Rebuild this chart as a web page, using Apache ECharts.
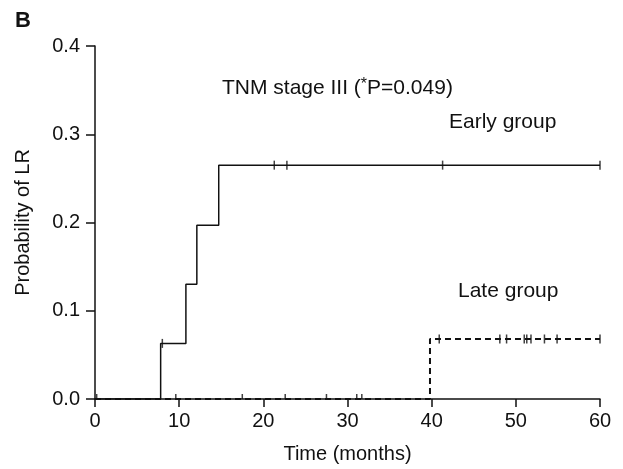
<!DOCTYPE html>
<html><head><meta charset="utf-8">
<script src="https://cdn.jsdelivr.net/npm/echarts@6/dist/echarts.min.js"></script>
<style>html,body{margin:0;padding:0;background:#fff}#c{width:623px;height:469px}</style>
</head><body><div id="c"></div>
<script>
var xTicks = [0, 10, 20, 30, 40, 50, 60];
var yTicks = [0.0, 0.1, 0.2, 0.3, 0.4];
var earlyTimes = [0, 7.8, 10.8, 12.1, 14.7, 60];
var earlyValues = [0, 0.063, 0.130, 0.197, 0.265, 0.265];
var earlyCensorTimes = [8.0, 21.3, 22.8, 41.3, 60];
var earlyCensorValues = [0.063, 0.265, 0.265, 0.265, 0.265];
var lateTimes = [0, 39.8, 60];
var lateValues = [0, 0.068, 0.068];
var lateCensorTimesZero = [0.2, 9.6, 17.5, 22.6, 27.5, 31.1, 31.7];
var lateCensorTimesTop = [40.9, 48.1, 48.9, 51.0, 51.3, 51.8, 53.4, 54.9, 60];
var lateTopValue = 0.068;

var FONT = 'Liberation Sans, Arial, sans-serif';
var FS = 20;
var FA = 21;
function zip(a, b) { return a.map(function (v, i) { return [v, b[i]]; }); }

var chart = echarts.init(document.getElementById('c'));
chart.setOption({
  animation: false,
  backgroundColor: '#fff',
  grid: { left: 95, right: 23, top: 46, bottom: 70 },
  xAxis: {
    type: 'value', min: xTicks[0], max: xTicks[xTicks.length - 1], interval: 10,
    name: 'Time (months)', nameLocation: 'middle', nameGap: 45,
    nameTextStyle: { color: '#111', fontSize: FS, fontFamily: FONT },
    axisLine: { lineStyle: { color: '#111', width: 1.5 } },
    axisTick: { length: 8, lineStyle: { color: '#111', width: 1.5 } },
    axisLabel: { color: '#111', fontSize: FS, fontFamily: FONT, margin: 12 },
    splitLine: { show: false }
  },
  yAxis: {
    type: 'value', min: yTicks[0], max: yTicks[yTicks.length - 1], interval: 0.1,
    name: 'Probability of LR', nameLocation: 'middle', nameGap: 62, nameRotate: 90,
    nameTextStyle: { color: '#111', fontSize: FS, fontFamily: FONT },
    axisLine: { show: true, lineStyle: { color: '#111', width: 1.5 } },
    axisTick: { show: true, length: 9, lineStyle: { color: '#111', width: 1.5 } },
    axisLabel: { color: '#111', fontSize: FS, fontFamily: FONT, margin: 15,
      formatter: function (v) { return v.toFixed(1); } },
    splitLine: { show: false }
  },
  series: [
    {
      type: 'line', step: 'end', symbol: 'none', z: 3,
      data: zip(lateTimes, lateValues),
      lineStyle: { color: '#111', width: 2, type: [6, 4] }
    },
    {
      type: 'line', step: 'end', symbol: 'none', z: 4,
      data: zip(earlyTimes, earlyValues),
      lineStyle: { color: '#111', width: 1.5 }
    },
    {
      type: 'scatter', symbol: 'rect', symbolSize: [1.5, 9], z: 5,
      itemStyle: { color: '#111' },
      data: zip(earlyCensorTimes, earlyCensorValues)
    },
    {
      type: 'scatter', symbol: 'rect', symbolSize: [1.5, 9], z: 5,
      itemStyle: { color: '#111' },
      data: lateCensorTimesTop.map(function (t) { return [t, lateTopValue]; })
    },
    {
      type: 'scatter', symbol: 'rect', symbolSize: [1.5, 5], symbolOffset: [0, -2.5], z: 5,
      itemStyle: { color: '#111' },
      data: lateCensorTimesZero.map(function (t) { return [t, 0]; })
    }
  ],
  graphic: [
    { type: 'text', left: 15, top: 10, style: { text: 'B', font: 'bold 22px ' + FONT, fill: '#111' } },
    { type: 'text', left: 222, top: 77, style: {
        text: '{a|TNM stage III (}{s|*}{a|P=0.049)}',
        rich: {
          a: { fontSize: FA, fontFamily: FONT, fill: '#111', color: '#111' },
          s: { fontSize: 16, fontFamily: FONT, fill: '#111', color: '#111', verticalAlign: 'top', padding: [0, 0, 6, 0] }
        }
    } },
    { type: 'text', left: 449, top: 112, style: { text: 'Early group', font: FA + 'px ' + FONT, fill: '#111' } },
    { type: 'text', left: 458, top: 281, style: { text: 'Late group', font: FA + 'px ' + FONT, fill: '#111' } }
  ]
});
</script>
</body></html>
